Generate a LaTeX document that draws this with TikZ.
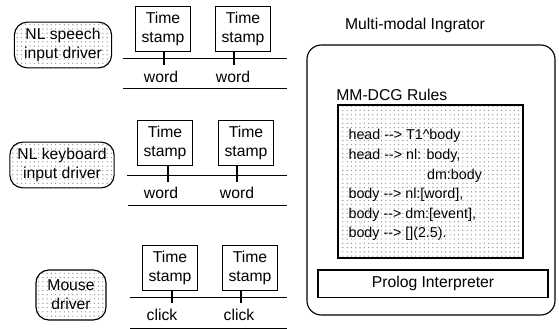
\documentclass[tikz,border=0pt]{standalone}
\usepackage{fontspec}
\setmainfont{Liberation Sans}
\usetikzlibrary{patterns}

\begin{document}
\begin{tikzpicture}[x=0.7pt,y=-0.7pt,line width=0.8pt,font=\fontsize{11}{13.5}\selectfont,
    driver/.style={draw,rounded corners=9pt,pattern=dots,pattern color=gray!80,align=center,inner sep=1pt},
    stamp/.style={draw,rectangle,align=center,minimum width=39pt,minimum height=31pt,inner sep=1pt},
    rule/.style={line width=0.7pt}]

    \useasboundingbox (0,0) rectangle (559,329);

    % Input drivers
    \node[driver,minimum width=68pt,minimum height=32pt] at (63,45) (speech) {NL speech\\input driver};
    \node[driver,minimum width=73pt,minimum height=32pt] at (62,165) (keyboard) {NL keyboard\\input driver};
    \node[driver,minimum width=49pt,minimum height=35pt] at (71,295) (mouse) {Mouse\\driver};

    % Speech stream
    \node[stamp] at (163,29) (ts11) {Time\\stamp};
    \node[stamp] at (243,29) (ts12) {Time\\stamp};
    \coordinate (t11) at (164,65);
    \coordinate (t12) at (234,65);
    \draw[rule] (123,58) -- (287,58);
    \draw (ts11.south -| t11) -- (t11);
    \draw (ts12.south -| t12) -- (t12);
    \node at (161,77) (w11) {word};
    \node at (233,77) (w12) {word};
    \draw[rule] (123,88) -- (287,88);

    % Keyboard stream
    \node[stamp] at (165,143) (ts21) {Time\\stamp};
    \node[stamp] at (246,143) (ts22) {Time\\stamp};
    \coordinate (t21) at (168,182);
    \coordinate (t22) at (237,182);
    \draw[rule] (127,175) -- (287,175);
    \draw (ts21.south -| t21) -- (t21);
    \draw (ts22.south -| t22) -- (t22);
    \node at (161,193) (w21) {word};
    \node at (237,193) (w22) {word};
    \draw[rule] (128,205) -- (287,205);

    % Mouse stream
    \node[stamp] at (170,268) (ts31) {Time\\stamp};
    \node[stamp] at (250,268) (ts32) {Time\\stamp};
    \coordinate (t31) at (172,303);
    \coordinate (t32) at (241,303);
    \draw[rule] (130,297) -- (287,297);
    \draw (ts31.south -| t31) -- (t31);
    \draw (ts32.south -| t32) -- (t32);
    \node at (162,315) (c31) {click};
    \node at (239,315) (c32) {click};
    \draw[rule] (130,328) -- (287,328);

    % Integrator
    \node at (415,25) (title) {Multi-modal Ingrator};
    \draw[rounded corners=10pt] (307,45) rectangle (555,315);
    \node[anchor=west] at (331,95) (dcg) {MM-DCG Rules};
    \draw[pattern=dots,pattern color=gray!80] (338,105) rectangle (523,258);
    \draw[line width=1.2pt] (523,105) -- (523,258) -- (338,258);
    \node[anchor=north west,align=left,inner sep=0pt,font=\fontsize{10}{13.7}\selectfont] at (348,129) (rules)
        {head -{}-> T1\textasciicircum body\\
         head -{}-> nl: body,\\
         \hspace*{55pt}dm:body\\
         body -{}-> nl:[word],\\
         body -{}-> dm:[event],\\
         body -{}-> [](2.5).};
    \node[draw,rectangle,minimum width=161pt,minimum height=19pt,inner sep=0pt] at (433,283.5) (prolog) {Prolog Interpreter};
\end{tikzpicture}
\end{document}
